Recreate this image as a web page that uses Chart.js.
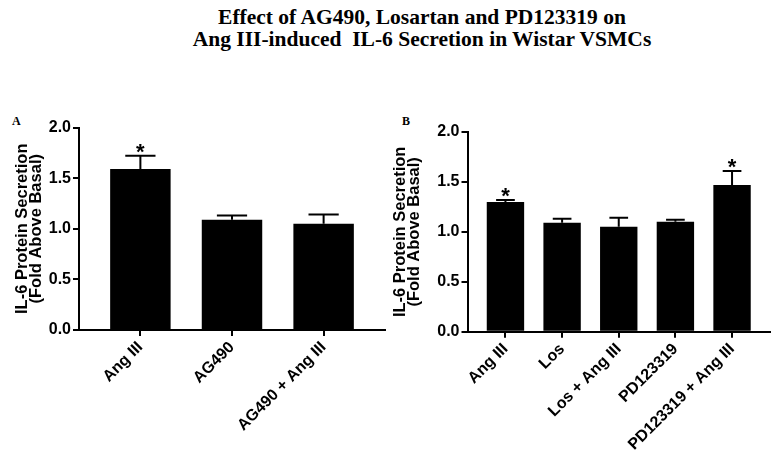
<!DOCTYPE html>
<html>
<head>
<meta charset="utf-8">
<script src="https://cdn.jsdelivr.net/npm/chart.js@4.4.1/dist/chart.umd.min.js"></script>
<style>
  html, body { margin: 0; padding: 0; background: #fff; overflow: hidden; }
  body { width: 781px; height: 451px; position: relative; }
  .title {
    position: absolute; left: 22px; top: 7px; width: 800px;
    text-align: center; white-space: pre; color: #000;
    font: bold 21.5px/21.5px 'Liberation Serif', 'Times New Roman', serif;
  }
  .panel-label {
    position: absolute; top: 115px; color: #000;
    font: bold 12px/12px 'Liberation Serif', 'Times New Roman', serif;
  }
  canvas { position: absolute; top: 110px; }
</style>
</head>
<body>
<div class="title">Effect of AG490, Losartan and PD123319 on
Ang III-induced  IL-6 Secretion in Wistar VSMCs</div>
<div class="panel-label" style="left:12px">A</div>
<div class="panel-label" style="left:402px">B</div>
<canvas id="chartA" width="390" height="341" style="left:0"></canvas>
<canvas id="chartB" width="391" height="341" style="left:390px"></canvas>

<script>
// panel A
const labelsA = ['Ang III', 'AG490', 'AG490 + Ang III'];
const meansA = [1.59, 1.09, 1.05];
const errorsA = [0.13, 0.04, 0.09];
const starsA = [true, false, false];

// panel B
const labelsB = ['Ang III', 'Los', 'Los + Ang III', 'PD123319', 'PD123319 + Ang III'];
const meansB = [1.30, 1.09, 1.05, 1.10, 1.47];
const errorsB = [0.02, 0.04, 0.09, 0.02, 0.14];
const starsB = [true, false, false, false, true];

const yTicks = [0, 0.5, 1.0, 1.5, 2.0];
const yTitle = ['IL-6 Protein Secretion', '(Fold Above Basal)'];

const sans = "'Liberation Sans', Arial, sans-serif";
const tickFont = { family: sans, weight: 'bold', size: 16 };

// SEM bars (upper half only) plus significance stars
const errorBarPlugin = {
  id: 'errorBars',
  afterDatasetsDraw(chart, args, opts) {
    const ctx = chart.ctx;
    const yScale = chart.scales.y;
    const meta = chart.getDatasetMeta(0);
    const values = chart.data.datasets[0].data;
    ctx.save();
    ctx.strokeStyle = '#000';
    ctx.fillStyle = '#000';
    ctx.lineWidth = 2;
    meta.data.forEach((bar, i) => {
      const top = yScale.getPixelForValue(values[i].y + opts.errors[i]);
      const half = bar.width / 4;
      ctx.beginPath();
      ctx.moveTo(bar.x, bar.y);
      ctx.lineTo(bar.x, top);
      ctx.moveTo(bar.x - half, top);
      ctx.lineTo(bar.x + half, top);
      ctx.stroke();
      if (opts.stars[i]) {
        ctx.font = 'bold 22px ' + sans;
        ctx.textAlign = 'center';
        ctx.textBaseline = 'alphabetic';
        ctx.fillText('*', bar.x, top + 3);
      }
    });
    ctx.restore();
  }
};

function makePanel(canvas, labels, means, errors, stars, box) {
  const axisGrid = { display: true, offset: false, drawOnChartArea: false, drawTicks: true, tickLength: 6, color: '#000', lineWidth: 2 };
  const axisBorder = { display: true, color: '#000', width: 2 };
  return new Chart(canvas, {
    type: 'bar',
    data: {
      datasets: [{
        data: means.map((v, i) => ({ x: i, y: v })),
        backgroundColor: '#000',
        borderWidth: 0,
        barPercentage: 0.66,
        categoryPercentage: 1
      }]
    },
    options: {
      responsive: false,
      animation: false,
      devicePixelRatio: 1,
      layout: { padding: { top: box.top, right: box.right, left: 0, bottom: 0 } },
      plugins: {
        legend: { display: false },
        tooltip: { enabled: false },
        errorBars: { errors, stars }
      },
      scales: {
        x: {
          type: 'linear',
          offset: false,
          min: -0.67,
          max: labels.length - 1 + 0.67,
          grid: axisGrid,
          border: axisBorder,
          ticks: {
            autoSkip: false,
            minRotation: 45,
            maxRotation: 45,
            padding: 2,
            color: '#000',
            font: tickFont,
            callback: (v) => labels[Math.round(v)]
          },
          afterBuildTicks: (scale) => { scale.ticks = labels.map((_, i) => ({ value: i })); },
          afterFit: (scale) => { scale.height = box.xHeight; }
        },
        y: {
          min: 0,
          max: 2,
          grid: axisGrid,
          border: axisBorder,
          ticks: {
            padding: 2,
            color: '#000',
            font: tickFont,
            callback: (v) => v.toFixed(1)
          },
          afterBuildTicks: (scale) => { scale.ticks = yTicks.map(v => ({ value: v })); },
          title: {
            display: true,
            text: yTitle,
            color: '#000',
            font: { family: sans, weight: 'bold', size: 16.5, lineHeight: '14px' },
            padding: { top: box.titlePad, bottom: 0 }
          },
          afterFit: (scale) => { scale.width = box.yWidth; }
        }
      }
    },
    plugins: [errorBarPlugin]
  });
}

makePanel(document.getElementById('chartA'), labelsA, meansA, errorsA, starsA,
  { top: 17.5, right: 5, yWidth: 79, xHeight: 121, titlePad: 15 });
makePanel(document.getElementById('chartB'), labelsB, meansB, errorsB, starsB,
  { top: 22, right: 11, yWidth: 77.5, xHeight: 119.3, titlePad: 3 });
</script>
</body>
</html>
